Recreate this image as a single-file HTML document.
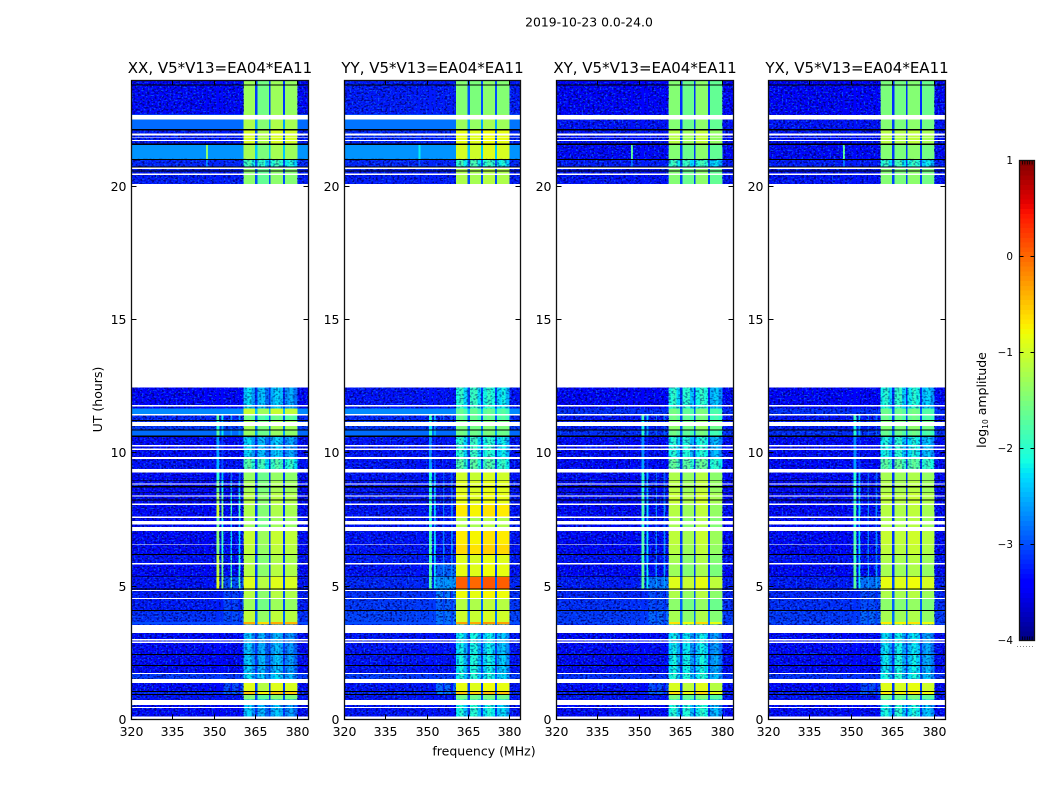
<!DOCTYPE html>
<html>
<head>
<meta charset="utf-8">
<title>2019-10-23 0.0-24.0</title>
<style>
html,body{margin:0;padding:0;background:#fff;width:1050px;height:800px;overflow:hidden}
svg{display:block}
text{font-family:"DejaVu Sans","Liberation Sans",sans-serif;fill:#000}
</style>
</head>
<body>
<svg id="chart" xmlns="http://www.w3.org/2000/svg" width="1050" height="800" viewBox="0 0 1050 800">
  <defs id="defs">
    <filter id="grainDark" x="0" y="0" width="1" height="1" color-interpolation-filters="sRGB">
      <feTurbulence type="fractalNoise" baseFrequency="0.42 0.55" numOctaves="1" seed="4"/>
      <feColorMatrix type="matrix" values="0 0 0 0 0  0 0 0 0 0  0 0 0 0 0.42  6 0 0 0 -2.9"/>
    </filter>
    <filter id="grainLight" x="0" y="0" width="1" height="1" color-interpolation-filters="sRGB">
      <feTurbulence type="fractalNoise" baseFrequency="0.5 0.62" numOctaves="1" seed="11"/>
      <feColorMatrix type="matrix" values="0 0 0 0 0.05  0 0 0 0 0.42  0 0 0 0 1  7 0 0 0 -3.9"/>
    </filter>
  </defs>
  <text x="589" y="26.5" font-size="12.4" text-anchor="middle">2019-10-23 0.0-24.0</text>
  <text transform="translate(102,399.5) rotate(-90)" font-size="12.5" text-anchor="middle">UT (hours)</text>
  <text x="484" y="755.5" font-size="12.5" text-anchor="middle">frequency (MHz)</text>
  <text transform="translate(986,400) rotate(-90)" font-size="12.5" text-anchor="middle">log<tspan font-size="7.5" dy="2">10</tspan><tspan dy="-2"> amplitude</tspan></text>
  <g id="panels"></g>
  <g id="colorbar"></g>
</svg>
<script>
// Row boundaries in UT hours, top to bottom (35 rows).
const rowEdgeHours = [23.93,22.69,22.11,21.6,21.02,20.7,20.08,12.45,11.66,11.42,11.19,10.86,10.63,9.79,9.34,8.93,8.48,8.08,7.58,7.18,6.53,6.17,5.81,5.34,4.86,4.52,4.07,3.64,3.56,2.42,1.71,1.5,1.03,0.92,0.73,0.11];

// Column boundaries in MHz and what each column holds.
const columnEdgesMHz = [320,346.9,347.6,350.7,351.8,352.5,353.2,355.8,356.3,358.7,359.4,360.5,361.9,363.3,364.7,365.6,367,368.3,369.7,370.3,371.8,373.3,374.8,375.5,377,378.5,380,384];
const columnKinds = ['bg','streak','bg','line0','bg','line1','bg','line2','bg','line3','bg','sub0','sub0','sub0','notch','sub1','sub1','sub1','notch','sub2','sub2','sub2','notch','sub3','sub3','sub3','bg'];

// Extra structure across the band that shows when the band is faint.
const faintProfile = [0,0,0,0,0,0,0,0,0,0,0,0.1,0.25,-0.1,0,0.3,0.35,-0.05,0,0,0.2,0.05,0,-0.1,0.05,-0.25,0];

// Background log10 amplitude per row.
const bgXX = [-3.35,-2.85,-3.25,-2.65,-3.2,-3.25,null,-3.4,-2.7,-3.2,-3.1,-2.85,-3.35,-3.3,-3.35,-3.35,-3.35,-3.35,-3.35,-3.35,-3.35,-3.3,-3.35,-3.3,-3.25,-3.25,-3.15,-3.0,-3.35,-3.35,-3.1,-3.35,-3.2,-3.3,-3.35];
const bgYY = [-3.25,-2.8,-3.2,-2.65,-3.2,-3.25,null,-3.3,-2.7,-3.2,-3.1,-2.85,-3.3,-3.3,-3.3,-3.3,-3.3,-3.3,-3.3,-3.3,-3.3,-3.25,-3.3,-3.2,-3.15,-3.1,-3.05,-3.0,-3.3,-3.3,-3.1,-3.3,-3.2,-3.3,-3.3];
const bgXY = [-3.4,-3.3,-3.3,-3.35,-3.25,-3.3,null,-3.4,-3.15,-3.3,-3.25,-3.15,-3.35,-3.35,-3.35,-3.35,-3.35,-3.35,-3.35,-3.35,-3.35,-3.3,-3.35,-3.25,-3.2,-3.15,-3.1,-3.05,-3.35,-3.35,-3.15,-3.35,-3.25,-3.3,-3.35];
const bgYX = [-3.4,-3.3,-3.3,-3.35,-3.25,-3.3,null,-3.4,-3.15,-3.3,-3.25,-3.15,-3.35,-3.35,-3.35,-3.35,-3.35,-3.35,-3.35,-3.35,-3.35,-3.3,-3.35,-3.25,-3.2,-3.15,-3.1,-3.05,-3.35,-3.35,-3.15,-3.35,-3.25,-3.3,-3.35];

// In-band (360-380 MHz) log10 amplitude per row.
const bandXX = [-1.35,-1.25,-1.0,-1.3,-2.1,-1.45,null,-2.55,-1.1,-1.7,-1.3,-1.4,-2.55,-2.0,-1.4,-1.3,-1.2,-1.25,-1.35,-1.1,-1.15,-1.25,-1.2,-0.95,-1.2,-1.35,-1.15,-0.4,-2.65,-2.6,-2.5,-0.95,-0.55,-1.5,-2.6];
const bandYY = [-1.45,-1.3,-0.85,-0.95,-2.1,-1.2,null,-2.2,-1.75,-1.75,-1.5,-1.6,-2.2,-1.95,-1.0,-0.9,-0.85,-0.7,-1.2,-0.7,-0.6,-0.9,-0.85,0.05,-0.8,-1.15,-1.0,-0.3,-2.4,-2.35,-2.3,-0.85,-0.5,-1.6,-2.3];
const bandXY = [-1.5,-1.5,-1.2,-1.5,-2.15,-1.5,null,-2.25,-1.65,-1.7,-1.45,-1.7,-2.3,-1.85,-1.25,-1.2,-1.1,-1.2,-1.3,-1.15,-1.2,-1.3,-1.35,-0.95,-1.25,-1.45,-1.3,-0.7,-2.45,-2.4,-2.3,-1.0,-0.7,-1.6,-2.3];
const bandYX = [-1.5,-1.45,-1.15,-1.45,-2.15,-1.45,null,-2.25,-1.65,-1.7,-1.45,-1.7,-2.3,-1.85,-1.25,-1.2,-1.1,-1.15,-1.2,-1.05,-1.1,-1.2,-1.25,-0.85,-1.2,-1.4,-1.25,-0.7,-2.45,-2.4,-2.3,-0.9,-0.7,-1.6,-2.3];

// RFI line columns near 351 MHz per row.
const lineXX = [null,null,null,null,null,null,null,null,null,-1.7,-2.0,-1.7,-2.6,-2.5,-2.0,-1.6,-1.3,-1.0,-1.6,-1.4,-1.5,-1.1,-1.1,-0.9,null,null,null,null,null,null,null,null,null,null,null];
const lineYY = [null,null,null,null,null,null,null,null,null,-2.0,-2.2,-2.0,-2.7,-2.6,-2.1,-2.0,-2.0,-1.9,-2.1,-1.9,-1.8,-1.9,-1.8,-1.8,null,null,null,null,null,null,null,null,null,null,null];
const lineXY = [null,null,null,null,null,null,null,null,null,-1.9,-2.1,-2.0,-2.7,-2.6,-2.0,-2.0,-1.9,-1.8,-2.0,-1.8,-1.8,-1.9,-1.7,-1.7,null,null,null,null,null,null,null,null,null,null,null];
const lineYX = [null,null,null,null,null,null,null,null,null,-1.9,-2.1,-2.0,-2.7,-2.6,-2.0,-2.0,-1.9,-1.8,-2.0,-1.8,-1.8,-1.9,-1.7,-1.7,null,null,null,null,null,null,null,null,null,null,null];
const lineGains = [0,-0.5,-0.9,-0.9];

// Short streak at 347 MHz per row.
const streakXX = [null,null,null,-1.4,-2.7,null,null,null,null,null,null,null,null,null,null,null,null,null,null,null,null,null,null,null,null,null,null,null,null,null,null,null,null,null,null];
const streakYY = [null,null,null,-2.2,-2.9,null,null,null,null,null,null,null,null,null,null,null,null,null,null,null,null,null,null,null,null,null,null,null,null,null,null,null,null,null,null];
const streakXY = [null,null,null,-1.7,-2.8,null,null,null,null,null,null,null,null,null,null,null,null,null,null,null,null,null,null,null,null,null,null,null,null,null,null,null,null,null,null];
const streakYX = [null,null,null,-1.7,-2.8,null,null,null,null,null,null,null,null,null,null,null,null,null,null,null,null,null,null,null,null,null,null,null,null,null,null,null,null,null,null];

// Diffuse excess just below the band edge (354-360 MHz) per row.
const glowXX = [null,null,null,null,null,null,null,null,null,null,null,null,null,null,null,null,null,null,null,null,null,null,null,-3.0,-3.05,-3.05,-3.0,null,null,null,null,-3.0,-2.9,null,null];
const glowYY = [null,null,null,null,null,null,null,null,null,null,null,null,null,null,null,null,null,null,null,null,null,null,-2.9,-2.6,-2.75,-2.9,-2.8,-2.8,null,null,null,-2.85,-2.75,null,null];
const glowXY = [null,null,null,null,null,null,null,null,null,null,null,null,null,null,null,null,null,null,null,null,null,null,null,-2.8,-3.0,-3.0,-2.85,-2.85,null,null,null,-3.0,-2.9,null,null];
const glowYX = [null,null,null,null,null,null,null,null,null,null,null,null,null,null,null,null,null,null,null,null,null,null,null,-2.8,-3.0,-3.0,-2.85,-2.85,null,null,null,-3.0,-2.9,null,null];

// Spectral-window offsets for the four sub-bands.
const subOffsetXX = [0.05,-0.2,0.05,0];
const subOffsetYY = [0,-0.05,0.05,0];
const subOffsetXY = [0.05,-0.1,0.1,-0.15];
const subOffsetYX = [0,-0.05,0.05,-0.1];

// Flagged time ranges (UT hours), drawn white.
const whiteGapStart = [22.66,21.96,21.84,21.73,20.7,20.46,20.08,11.78,11.44,11.15,10.28,10.16,9.83,9.39,8.85,8.4,8.1,7.61,7.44,7.2,6.56,5.85,4.84,4.54,3.54,3.0,2.91,1.73,1.5,0.72,0.46,0.11];
const whiteGapEnd   = [22.5,21.9,21.81,21.69,20.63,20.42,12.45,11.72,11.4,10.99,10.23,10.1,9.76,9.26,8.81,8.36,8.04,7.55,7.31,7.05,6.53,5.81,4.8,4.5,3.23,2.95,2.86,1.69,1.35,0.53,0.42,0];

// Dropouts (UT hours), drawn black.
const blackGapStart = [23.81,22.13,21.6,21.02,20.74,20.59,11.23,10.86,10.65,8.96,8.74,8.51,8.25,6.19,5.36,4.9,4.09,2.44,2.03,1.05,0.94];
const blackGapEnd   = [23.77,22.09,21.54,20.98,20.7,20.55,11.19,10.82,10.59,8.93,8.7,8.48,8.21,6.15,5.33,4.86,4.05,2.4,1.99,1.02,0.9];

// Axis ticks and panel labels.
const xTickValues = [320,335,350,365,380];
const yTickValues = [0,5,10,15,20];
const colorbarTickValues = [-4,-3,-2,-1,0,1];
const colorbarTickLabels = ['\u22124','\u22123','\u22122','\u22121','0','1'];
const panelNames = ['XX','YY','XY','YX'];
const panelTitles = ['XX, V5*V13=EA04*EA11','YY, V5*V13=EA04*EA11','XY, V5*V13=EA04*EA11','YX, V5*V13=EA04*EA11'];
const bgByPanel = [bgXX,bgYY,bgXY,bgYX];
const bandByPanel = [bandXX,bandYY,bandXY,bandYX];
const lineByPanel = [lineXX,lineYY,lineXY,lineYX];
const streakByPanel = [streakXX,streakYY,streakXY,streakYX];
const glowByPanel = [glowXX,glowYY,glowXY,glowYX];
const subOffsetByPanel = [subOffsetXX,subOffsetYY,subOffsetXY,subOffsetYX];

const SVGNS = 'http://www.w3.org/2000/svg';
const panelLeft = [131.5,344.5,556.5,768.5];
const panelRight = [308.5,520.5,733.5,945.5];
const plotTop = 80.5;
const plotBottom = 719.5;
const xMin = 320, xMax = 384;

function make(tag, attrs, parent) {
  const e = document.createElementNS(SVGNS, tag);
  for (const k in attrs) e.setAttribute(k, attrs[k]);
  parent.appendChild(e);
  return e;
}
function yScale(h) { return 719.2 - 26.66 * h; }
function xScale(p, f) { return panelLeft[p] + (f - xMin) / (xMax - xMin) * (panelRight[p] - panelLeft[p]); }
function interp(t, pts) {
  if (t <= pts[0][0]) return pts[0][1];
  for (let i = 1; i < pts.length; i++) {
    if (t <= pts[i][0]) {
      const a = pts[i-1], b = pts[i];
      return a[1] + (b[1] - a[1]) * (t - a[0]) / (b[0] - a[0]);
    }
  }
  return pts[pts.length-1][1];
}
function jet(v) {
  const t = Math.max(0, Math.min(1, (v + 4) / 5));
  const r = interp(t, [[0,0],[0.35,0],[0.66,1],[0.89,1],[1,0.5]]);
  const g = interp(t, [[0,0],[0.125,0],[0.375,1],[0.64,1],[0.91,0],[1,0]]);
  const b = interp(t, [[0,0.5],[0.11,1],[0.34,1],[0.65,0],[1,0]]);
  return 'rgb(' + Math.round(r*255) + ',' + Math.round(g*255) + ',' + Math.round(b*255) + ')';
}
function cellLevel(p, r, c) {
  const kind = columnKinds[c];
  const bg = bgByPanel[p][r];
  if (kind === 'bg') {
    const glow = glowByPanel[p][r];
    return (glow !== null && c >= 6 && c <= 10) ? Math.max(bg, glow) : bg;
  }
  if (kind === 'notch') return bg + 0.25;
  if (kind === 'streak') {
    const s = streakByPanel[p][r];
    return s === null ? bg : s;
  }
  if (kind.indexOf('line') === 0) {
    const l = lineByPanel[p][r];
    return l === null ? bg : Math.max(bg, l + lineGains[+kind.charAt(4)]);
  }
  const band = bandByPanel[p][r];
  const weight = Math.max(0, Math.min(1, (-1.5 - band) / 0.5));
  return band + subOffsetByPanel[p][+kind.charAt(3)] + weight * faintProfile[c];
}

const defsRoot = document.getElementById('defs');
const panelsRoot = document.getElementById('panels');
panelNames.forEach(function (name, p) {
  // Clips so the grain only sits on quiet rows, not on the smooth bright ones.
  const quietClip = make('clipPath', {id:'quiet-' + p}, defsRoot);
  const faintClip = make('clipPath', {id:'faint-' + p}, defsRoot);
  for (let r = 0; r < rowEdgeHours.length - 1; r++) {
    if (bgByPanel[p][r] === null) continue;
    const y0 = yScale(rowEdgeHours[r]), y1 = yScale(rowEdgeHours[r+1]);
    if (bgByPanel[p][r] < -3) make('rect', {x:panelLeft[p], y:y0, width:panelRight[p]-panelLeft[p], height:y1-y0}, quietClip);
    if (bandByPanel[p][r] < -1.8) make('rect', {x:panelLeft[p], y:y0, width:panelRight[p]-panelLeft[p], height:y1-y0}, faintClip);
  }

  const g = make('g', {}, panelsRoot);
  
  

  const cells = make('g', {'shape-rendering':'crispEdges'}, g);
  
  
  for (let r = 0; r < rowEdgeHours.length - 1; r++) {
    if (bgByPanel[p][r] === null) continue;
    for (let c = 0; c < columnKinds.length; c++) {
      const x0 = xScale(p, columnEdgesMHz[c]), x1 = xScale(p, columnEdgesMHz[c+1]);
      const y0 = yScale(rowEdgeHours[r]), y1 = yScale(rowEdgeHours[r+1]);
      const cell = make('rect', {x:x0, y:y0, width:x1-x0, height:y1-y0, fill:jet(cellLevel(p, r, c))}, cells);
      
      
    }
  }

  // Fine-grain texture over background channels on quiet rows.
  const quietLayer = make('g', {'clip-path':'url(#quiet-' + p + ')'}, g);
  
  
  columnKinds.forEach(function (kind, c) {
    if (kind !== 'bg') return;
    const gx = xScale(p, columnEdgesMHz[c]), gw = xScale(p, columnEdgesMHz[c+1]) - gx;
    const dark = make('rect', {x:gx, y:plotTop, width:gw, height:plotBottom-plotTop, fill:'#000', filter:'url(#grainDark)', opacity:0.75}, quietLayer);
    
    
    const light = make('rect', {x:gx, y:plotTop, width:gw, height:plotBottom-plotTop, fill:'#000', filter:'url(#grainLight)', opacity:0.7}, quietLayer);
    
    
  });
  // Mottling over the band on faint rows.
  const faintLayer = make('g', {'clip-path':'url(#faint-' + p + ')'}, g);
  
  
  const bx = xScale(p, 360.5), bw = xScale(p, 380) - bx;
  const bandDark = make('rect', {x:bx, y:plotTop, width:bw, height:plotBottom-plotTop, fill:'#000', filter:'url(#grainDark)', opacity:0.45}, faintLayer);
  
  

  const gaps = make('g', {'shape-rendering':'crispEdges'}, g);
  
  
  whiteGapStart.forEach(function (h, i) {
    const y0 = yScale(h), y1 = yScale(whiteGapEnd[i]);
    const gap = make('rect', {x:panelLeft[p], y:y0, width:panelRight[p]-panelLeft[p], height:y1-y0, fill:'#fff'}, gaps);
    
    
  });
  blackGapStart.forEach(function (h, i) {
    const y0 = yScale(h), y1 = yScale(blackGapEnd[i]);
    const gap = make('rect', {x:panelLeft[p], y:y0, width:panelRight[p]-panelLeft[p], height:y1-y0, fill:'#000'}, gaps);
    
    
  });

  const frame = make('rect', {x:panelLeft[p], y:plotTop, width:panelRight[p]-panelLeft[p], height:plotBottom-plotTop, fill:'none', stroke:'#111', 'stroke-width':1.3}, g);
  
  

  xTickValues.forEach(function (v) {
    const x = Math.round(xScale(p, v) - 0.5) + 0.5;
    const bottomTick = make('line', {x1:x, x2:x, y1:plotBottom, y2:plotBottom-5, stroke:'#000', 'shape-rendering':'crispEdges'}, g);
    
    
    const topTick = make('line', {x1:x, x2:x, y1:plotTop, y2:plotTop+5, stroke:'#000', 'shape-rendering':'crispEdges'}, g);
    
    
    const label = make('text', {x:x, y:736, 'font-size':12.5, 'text-anchor':'middle'}, g);
    label.textContent = String(v);
    
    
  });
  yTickValues.forEach(function (v) {
    const y = Math.round(719.5 - 26.66 * v - 0.5) + 0.5;
    const leftTick = make('line', {x1:panelLeft[p], x2:panelLeft[p]+5, y1:y, y2:y, stroke:'#000', 'shape-rendering':'crispEdges'}, g);
    
    
    const rightTick = make('line', {x1:panelRight[p], x2:panelRight[p]-5, y1:y, y2:y, stroke:'#000', 'shape-rendering':'crispEdges'}, g);
    
    
    const label = make('text', {x:panelLeft[p]-5, y:y+4.5, 'font-size':12.5, 'text-anchor':'end'}, g);
    label.textContent = String(v);
    
    
  });

  const title = make('text', {x:(panelLeft[p]+panelRight[p])/2, y:73, 'font-size':15, 'text-anchor':'middle'}, g);
  title.textContent = panelTitles[p];
  
  
});

// Colorbar
const cbRoot = document.getElementById('colorbar');
const cbLeft = 1019.5, cbRight = 1034.5, cbTop = 160.5, cbBottom = 640.5;
function cbY(v) { return cbBottom - (v + 4) / 5 * (cbBottom - cbTop); }
const cbStep = 0.05;
for (let i = 0; i < 100; i++) {
  const v = -4 + i * cbStep;
  const swatch = make('rect', {x:cbLeft, y:cbY(v + cbStep), width:cbRight-cbLeft, height:cbY(v)-cbY(v + cbStep)+0.5, fill:jet(v + cbStep/2), 'shape-rendering':'crispEdges'}, cbRoot);
  
  
}
for (let i = 0; i < 5; i++) {
  const x = 1022.5 + i * 2.4;
  const topMinor = make('line', {x1:x, x2:x, y1:cbTop, y2:cbTop+4, stroke:'#000', 'stroke-width':0.8}, cbRoot);
  
  
  const bottomMinor = make('line', {x1:x, x2:x, y1:cbBottom, y2:cbBottom-4, stroke:'#000', 'stroke-width':0.8}, cbRoot);
  
  
}
const cbFrame = make('rect', {x:cbLeft, y:cbTop, width:cbRight-cbLeft, height:cbBottom-cbTop, fill:'none', stroke:'#111', 'stroke-width':1.3}, cbRoot);


colorbarTickValues.forEach(function (v, i) {
  const y = Math.round(cbY(v) - 0.5) + 0.5;
  if (i > 0 && i < colorbarTickValues.length - 1) {
    const leftTick = make('line', {x1:cbLeft, x2:cbLeft+4, y1:y, y2:y, stroke:'#000', 'shape-rendering':'crispEdges'}, cbRoot);
    
    
    const rightTick = make('line', {x1:cbRight, x2:cbRight-4, y1:y, y2:y, stroke:'#000', 'shape-rendering':'crispEdges'}, cbRoot);
    
    
  }
  const label = make('text', {x:1013, y:y+3.5, 'font-size':10.4, 'text-anchor':'end'}, cbRoot);
  label.textContent = colorbarTickLabels[i];
  
  
});
const cbDots = make('line', {x1:1017, x2:1035, y1:646.5, y2:646.5, stroke:'#888', 'stroke-width':1, 'stroke-dasharray':'1 2'}, cbRoot);


</script>
</body>
</html>
